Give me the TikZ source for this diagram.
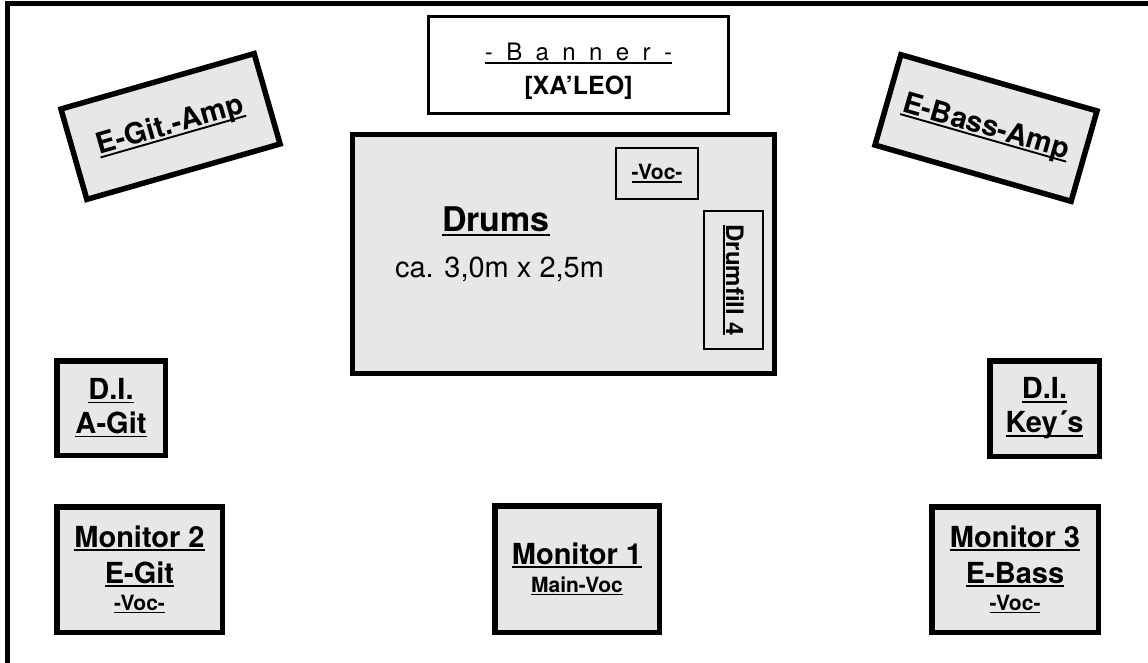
\documentclass[tikz,border=0pt]{standalone}
\usepackage{fontspec}
\setmainfont{TeX Gyre Heros}
\definecolor{cinzabox}{RGB}{230,231,231}
\tikzset{
  caixa/.style={draw, line width=5.5pt, fill=cinzabox, inner sep=0pt, align=center},
  caixafina/.style={draw, line width=2.5pt, inner sep=0pt, align=center},
}
\newcommand{\fonteA}{\fontsize{29}{36}\selectfont\bfseries}
\newcommand{\fonteB}{\fontsize{21}{26}\selectfont\bfseries}
\newcommand{\espaco}{\hspace{13.4pt}}
\newsavebox{\caixatexto}
\newcommand{\sublinha}[1]{\sbox{\caixatexto}{#1}\rlap{\rule[-0.13em]{\wd\caixatexto}{0.065em}}\usebox{\caixatexto}}
\begin{document}
\begin{tikzpicture}[x=1pt, y=-1pt]
    \useasboundingbox (0,0) rectangle (1148,663);
    % Moldura do palco
    \draw[line width=5pt] (7.5,663) -- (7.5,4) -- (1148,4);

    % Banner
    \node[caixafina, minimum width=300, minimum height=97] (banner) at (578.5,65) {};
    \node[font=\fontsize{24}{33.5}\selectfont, align=center] (bannertexto) at (578.5,71.1)
        {\sublinha{-\espaco B\espaco a\espaco n\espaco n\espaco e\espaco r\espaco -}\\{\fontsize{25}{30}\selectfont\bfseries [XA'LEO]}};

    % Amplificadores
    \node[caixa, rotate=16, minimum width=201, minimum height=94, font=\fonteA] (gitamp) at (170.5,126.5) {\sublinha{E-Git.-Amp}};
    \node[caixa, rotate=-16, minimum width=204, minimum height=94, font=\fonteA] (bassamp) at (986,128) {\sublinha{E-Bass-Amp}};

    % Bateria
    \node[caixa, line width=5pt, minimum width=422, minimum height=239] (drums) at (563.5,254) {};
    \node[font=\fontsize{34}{40}\selectfont\bfseries, anchor=base] (drumstitulo) at (496,232) {\sublinha{Drums}};
    \node[font=\fontsize{29}{36}\selectfont, anchor=base] (drumsmedida) at (499.5,277) {ca. 3,0m x 2,5m};
    \node[caixafina, minimum width=82, minimum height=51, font=\fonteB] (drumsvoc) at (657,173.5) {\sublinha{-Voc-}};
    \node[caixafina, rotate=-90, minimum width=138, minimum height=59, font=\fontsize{24}{28}\selectfont\bfseries] (drumfill) at (733.5,280) {\sublinha{Drumfill 4}};

    % D.I. e monitores
    \foreach \nome/\pos/\larg/\alt/\txt in {
        diagit/{111,408}/108.5/94.5/{\sublinha{D.I.}\\[-2pt]\sublinha{A-Git}},
        dikeys/{1044.5,408.5}/109.5/95.5/{\sublinha{D.I.}\\[-2pt]\sublinha{Key´s}},
        monitor2/{139.5,569.5}/165.5/125.5/{\sublinha{Monitor 2}\\\sublinha{E-Git}\\[-9pt]{\fonteB\sublinha{-Voc-}}},
        monitor1/{577,569}/164.5/126.5/{\sublinha{Monitor 1}\\[-8pt]{\fonteB\sublinha{Main-Voc}}},
        monitor3/{1015,569.5}/166.5/125.5/{\sublinha{Monitor 3}\\\sublinha{E-Bass}\\[-9pt]{\fonteB\sublinha{-Voc-}}}} {
        \node[caixa, font=\fonteA, minimum width=\larg, minimum height=\alt] (\nome) at (\pos) {\txt};
    }
\end{tikzpicture}
\end{document}
